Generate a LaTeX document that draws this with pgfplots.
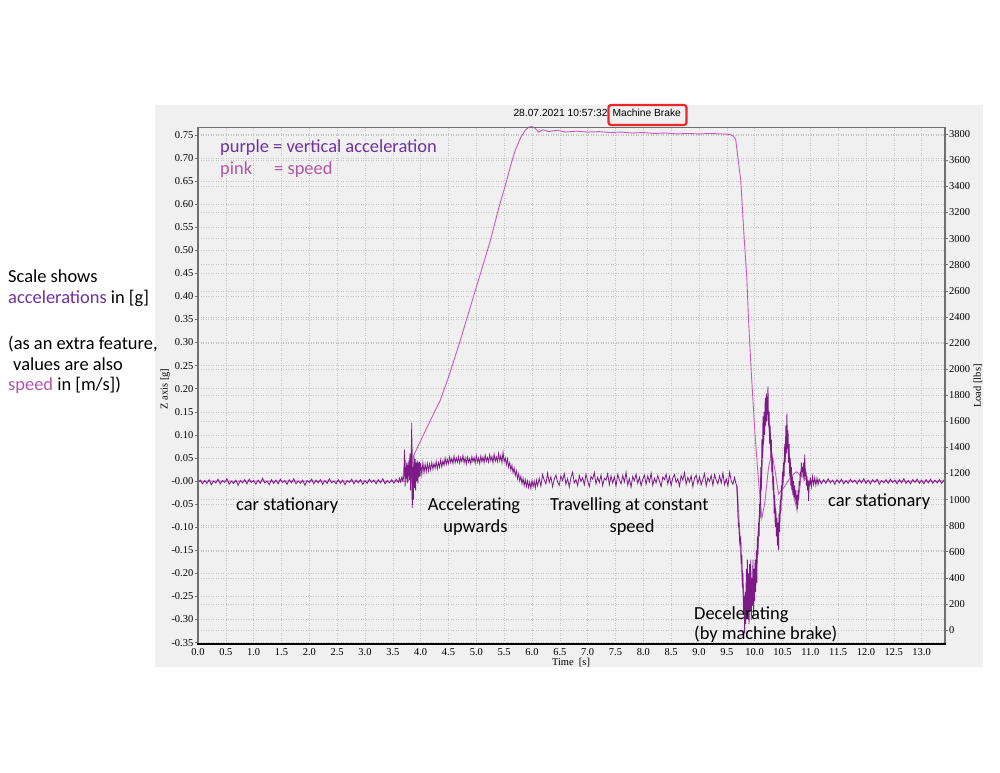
\documentclass[border=0pt]{standalone}
\usepackage{pgfplots}
\pgfplotsset{compat=1.18}
\usepackage{fontspec}
\setmainfont{Liberation Serif}
\newfontfamily\calibri{Carlito}
\newfontfamily\arial{Liberation Sans}
\definecolor{panel}{HTML}{F0F0F0}
\definecolor{gridc}{HTML}{C4C4C4}
\definecolor{accdark}{HTML}{7D1A88}
\definecolor{acclight}{HTML}{AC68AE}
\definecolor{speedc}{HTML}{C85ABC}
\definecolor{txtpurple}{HTML}{7030A0}
\definecolor{txtpink}{HTML}{B455A8}
\definecolor{boxred}{HTML}{E8282C}
\definecolor{axgray}{HTML}{707070}
\begin{document}
\begin{tikzpicture}
\fill[white] (0bp,0bp) rectangle (1000bp,773bp);
\useasboundingbox (0bp,0bp) rectangle (1000bp,773bp);
\fill[panel] (155bp,106bp) rectangle (983bp,668bp);
% ---------- right axis (Load) ----------
\begin{axis}[at={(198bp,129bp)}, anchor=south west, scale only axis,
  width=747bp, height=517bp,
  xmin=0, xmax=13.42, ymin=-107, ymax=3856,
  hide x axis, axis y line*=right,
  ytick={0,200,...,3800},
  ymajorgrids,
  grid style={gridc, line width=0.6bp, dash pattern=on 1bp off 1.5bp},
  axis line style={draw=none},
  tick style={axgray, line width=0.6bp}, major tick length=3bp, tick align=outside,
  /pgf/number format/1000 sep={}, /pgf/number format/assume math mode=true,
  yticklabel style={font=\fontsize{10.5}{12}\selectfont, inner sep=1bp}]
\addplot[draw=none] coordinates {(0,0)};
\end{axis}
% ---------- left axis (acceleration) ----------
\begin{axis}[at={(198bp,129bp)}, anchor=south west, scale only axis,
  width=747bp, height=517bp,
  xmin=0, xmax=13.42, ymin=-0.353, ymax=0.767,
  axis line style={draw=none},
  xtick={0,0.5,...,13}, xtick pos=left, ytick pos=left,
  ytick={-0.35,-0.30,-0.25,-0.20,-0.15,-0.10,-0.05,0,0.05,0.10,0.15,0.20,0.25,0.30,0.35,0.40,0.45,0.50,0.55,0.60,0.65,0.70,0.75},
  yticklabels={-0.35,-0.30,-0.25,-0.20,-0.15,-0.10,-0.05,-0.00,0.05,0.10,0.15,0.20,0.25,0.30,0.35,0.40,0.45,0.50,0.55,0.60,0.65,0.70,0.75},
  xmajorgrids, ymajorgrids,
  grid style={gridc, line width=0.6bp, dash pattern=on 1bp off 1.5bp},
  tick style={axgray, line width=0.6bp}, major tick length=3bp, tick align=outside,
  xtick style={draw=none},
  /pgf/number format/assume math mode=true,
  xticklabel style={font=\fontsize{10.5}{12}\selectfont, inner sep=1bp,
    /pgf/number format/fixed, /pgf/number format/fixed zerofill, /pgf/number format/precision=1},
  yticklabel style={font=\fontsize{10.5}{12}\selectfont, inner sep=1.5bp}]
% speed (pink)
\addplot[speedc, line width=0.9bp] coordinates {
(0,0)(3.78,0)(3.82,0.02)(3.87,0.054)(3.95,0.075)(4.05,0.10)(4.15,0.125)(4.25,0.15)(4.35,0.174)(4.5,0.225)(4.7,0.30)(4.9,0.38)(5.1,0.46)(5.25,0.52)(5.4,0.59)(5.52,0.64)(5.62,0.685)(5.7,0.717)(5.8,0.745)(5.88,0.76)(5.95,0.767)(6.0,0.768)(6.05,0.765)(6.12,0.756)(6.2,0.761)(6.3,0.757)(6.45,0.760)(6.6,0.756)(6.8,0.758)(7.0,0.756)(7.2,0.757)(7.4,0.755)(7.6,0.756)(7.8,0.754)(8.0,0.755)(8.2,0.753)(8.4,0.754)(8.6,0.752)(8.8,0.753)(9.0,0.752)(9.2,0.753)(9.4,0.752)(9.55,0.751)(9.62,0.747)(9.66,0.74)(9.70,0.70)(9.75,0.652)(9.81,0.53)(9.86,0.44)(9.89,0.35)(9.94,0.235)(10.01,0.094)(10.07,0.0)(10.13,-0.08)(10.18,-0.05)(10.25,0.03)(10.31,0.06)(10.37,0.02)(10.43,-0.028)(10.55,-0.01)(10.65,0.01)(10.75,0.02)(10.85,0.01)(10.97,0.0)(13.42,0.0)};
% light overlay of acceleration
\addplot[acclight, line width=1.6bp, opacity=0.85] coordinates {
(3.68,0.004)(3.70,0.02)(3.72,0.045)(3.74,0.01)(3.76,0.03)(3.78,0.015)(3.80,0.04)(3.82,0.02)(3.84,0.07)(3.85,-0.04)(3.86,0.01)(3.88,0.035)(3.90,0.01)(3.92,0.03)(3.95,0.02)(3.98,0.03)(4.02,0.028)};
\addplot[acclight, line width=1.6bp, opacity=0.85] coordinates {
(9.68,-0.01)(9.70,-0.05)(9.72,-0.10)(9.74,-0.13)(9.76,-0.17)(9.78,-0.21)(9.80,-0.25)(9.82,-0.28)(9.84,-0.25)(9.86,-0.27)(9.88,-0.23)(9.90,-0.28)(9.92,-0.22)(9.94,-0.27)(9.96,-0.22)(9.98,-0.25)(10.00,-0.21)(10.02,-0.20)(10.04,-0.17)(10.06,-0.13)(10.08,-0.09)(10.10,-0.05)(10.12,0.01)(10.14,0.05)(10.16,0.10)(10.18,0.12)(10.20,0.15)(10.22,0.16)(10.24,0.15)(10.26,0.12)(10.28,0.09)(10.30,0.06)(10.32,0.02)(10.34,-0.02)(10.36,-0.05)(10.38,-0.08)(10.40,-0.10)(10.42,-0.11)(10.44,-0.09)(10.46,-0.06)(10.48,-0.03)(10.50,0.00)(10.52,0.03)(10.54,0.05)(10.56,0.07)(10.58,0.09)(10.60,0.07)(10.62,0.05)(10.64,0.02)(10.66,0.00)(10.68,-0.02)(10.70,-0.03)(10.72,-0.04)(10.74,-0.05)(10.76,-0.06)(10.78,-0.04)(10.80,-0.02)(10.82,0.00)(10.84,0.02)(10.86,0.025)(10.88,0.03)(10.90,0.03)(10.92,0.015)(10.94,0.00)(10.96,-0.015)(10.98,-0.01)(11.00,0.0)(11.05,0.0)};
% vertical acceleration (dark purple)
\addplot[accdark, line width=0.8bp] coordinates {
(0.00,-0.004)(0.04,0.002)(0.08,-0.006)(0.12,0.001)(0.16,-0.005)(0.20,0.003)(0.24,-0.008)(0.28,0.000)(0.32,-0.004)(0.36,0.004)(0.40,-0.006)(0.44,0.001)(0.48,-0.003)(0.52,0.005)(0.56,-0.007)(0.60,0.000)(0.64,-0.005)(0.68,0.002)(0.72,-0.009)(0.76,0.001)(0.80,-0.004)(0.84,0.003)(0.88,-0.006)(0.92,0.004)(0.96,-0.003)(1.00,0.001)(1.04,-0.007)(1.08,0.002)(1.12,-0.005)(1.16,0.006)(1.20,-0.004)(1.24,0.000)(1.28,-0.008)(1.32,0.003)(1.36,-0.005)(1.40,0.002)(1.44,-0.006)(1.48,0.004)(1.52,-0.003)(1.56,0.001)(1.60,-0.007)(1.64,0.003)(1.68,-0.004)(1.72,0.005)(1.76,-0.006)(1.80,0.000)(1.84,-0.005)(1.88,0.002)(1.92,-0.009)(1.96,0.001)(2.00,-0.003)(2.04,0.004)(2.08,-0.006)(2.12,0.002)(2.16,-0.004)(2.20,0.003)(2.24,-0.007)(2.28,0.001)(2.32,-0.005)(2.36,0.005)(2.40,-0.004)(2.44,0.000)(2.48,-0.006)(2.52,0.003)(2.56,-0.005)(2.60,0.002)(2.64,-0.008)(2.68,0.001)(2.72,-0.003)(2.76,0.004)(2.80,-0.006)(2.84,0.002)(2.88,-0.004)(2.92,0.003)(2.96,-0.007)(3.00,0.001)(3.04,-0.005)(3.08,0.004)(3.12,-0.003)(3.16,0.002)(3.20,-0.006)(3.24,0.003)(3.28,-0.004)(3.32,0.005)(3.36,-0.006)(3.40,0.001)(3.44,-0.004)(3.48,0.003)(3.52,-0.005)(3.56,0.004)(3.60,-0.003)
(3.62,0.006)(3.64,-0.002)(3.66,0.008)(3.68,0.000)(3.70,0.012)(3.71,0.068)(3.72,-0.012)(3.73,0.030)(3.74,0.004)(3.75,0.040)(3.76,-0.005)(3.77,0.035)(3.78,0.010)(3.79,0.045)(3.80,0.002)(3.81,0.060)(3.82,-0.020)(3.83,0.050)(3.84,0.126)(3.85,-0.058)(3.86,0.030)(3.87,-0.040)(3.88,0.055)(3.89,-0.015)(3.90,0.048)(3.91,-0.020)(3.92,0.040)(3.93,0.000)(3.94,0.045)(3.95,-0.005)(3.96,0.040)(3.97,0.008)(3.98,0.042)(3.99,0.010)(4.00,0.038)(4.02,0.015)(4.04,0.040)(4.06,0.018)(4.08,0.036)(4.10,0.020)
(4.12,0.038)(4.14,0.022)(4.16,0.037)(4.18,0.024)(4.20,0.040)(4.22,0.026)(4.24,0.038)(4.26,0.028)(4.28,0.042)(4.30,0.027)(4.32,0.040)(4.34,0.030)(4.36,0.046)(4.38,0.031)(4.40,0.044)(4.42,0.034)(4.44,0.050)(4.46,0.036)(4.48,0.047)(4.50,0.038)(4.52,0.052)(4.54,0.040)(4.56,0.049)(4.58,0.038)(4.60,0.054)(4.62,0.040)(4.64,0.050)(4.66,0.041)(4.68,0.053)(4.70,0.039)(4.72,0.051)(4.74,0.042)(4.76,0.055)(4.78,0.040)(4.80,0.050)(4.82,0.037)(4.84,0.052)(4.86,0.041)(4.88,0.049)(4.90,0.038)(4.92,0.053)(4.94,0.042)(4.96,0.051)(4.98,0.039)(5.00,0.055)(5.02,0.041)(5.04,0.050)(5.06,0.038)(5.08,0.054)(5.10,0.042)(5.12,0.052)(5.14,0.040)(5.16,0.056)(5.18,0.043)(5.20,0.051)(5.22,0.041)(5.24,0.057)(5.26,0.044)(5.28,0.053)(5.30,0.040)(5.32,0.058)(5.34,0.043)(5.36,0.052)(5.38,0.042)(5.40,0.060)(5.42,0.044)(5.44,0.055)(5.46,0.040)(5.48,0.062)(5.50,0.042)(5.52,0.050)(5.54,0.035)(5.56,0.048)(5.58,0.030)
(5.60,0.040)(5.62,0.024)(5.64,0.034)(5.66,0.018)(5.68,0.028)(5.70,0.012)(5.72,0.022)(5.74,0.005)(5.76,0.016)(5.78,0.000)(5.80,0.010)(5.82,-0.006)(5.84,0.006)(5.86,-0.010)(5.88,0.003)(5.90,-0.012)(5.92,0.000)(5.94,-0.014)(5.96,-0.002)(5.98,-0.016)(6.00,0.001)(6.02,-0.012)(6.04,0.000)(6.06,-0.015)(6.08,0.002)(6.10,-0.010)
(6.13,0.006)(6.16,-0.011)(6.19,0.014)(6.22,0.002)(6.25,-0.006)(6.28,0.017)(6.31,-0.003)(6.34,0.009)(6.37,-0.012)(6.40,0.004)(6.43,0.013)(6.46,-0.002)(6.49,-0.009)(6.52,0.011)(6.55,0.001)(6.58,0.016)(6.61,-0.007)(6.64,0.005)(6.67,-0.013)(6.70,0.008)(6.73,0.019)(6.76,-0.004)(6.79,0.003)(6.82,-0.010)(6.85,0.012)(6.88,-0.001)(6.91,0.007)(6.94,-0.008)(6.97,0.015)(7.00,0.000)(7.03,-0.012)(7.06,0.010)(7.09,0.004)(7.12,0.018)(7.15,-0.006)(7.18,0.008)(7.21,-0.003)(7.24,0.013)(7.27,-0.010)(7.30,0.006)(7.33,0.002)(7.36,0.016)(7.39,-0.008)(7.42,0.011)(7.45,-0.004)(7.48,0.009)(7.51,-0.011)(7.54,0.014)(7.57,0.003)(7.60,-0.006)(7.63,0.012)(7.66,-0.002)(7.69,0.019)(7.72,-0.009)(7.75,0.005)(7.78,-0.013)(7.81,0.010)(7.84,0.001)(7.87,0.015)(7.90,-0.005)(7.93,0.008)(7.96,-0.010)(7.99,0.004)(8.02,0.013)(8.05,-0.007)(8.08,0.011)(8.11,-0.002)(8.14,0.017)(8.17,-0.009)(8.20,0.006)(8.23,-0.004)(8.26,0.012)(8.29,0.000)(8.32,-0.012)(8.35,0.009)(8.38,0.003)(8.41,0.015)(8.44,-0.006)(8.47,0.010)(8.50,-0.010)(8.53,0.007)(8.56,0.014)(8.59,-0.003)(8.62,0.005)(8.65,-0.011)(8.68,0.012)(8.71,0.002)(8.74,0.018)(8.77,-0.007)(8.80,0.008)(8.83,-0.002)(8.86,0.011)(8.89,-0.012)(8.92,0.006)(8.95,0.013)(8.98,-0.005)(9.01,0.009)(9.04,-0.008)(9.07,0.004)(9.10,0.016)(9.13,-0.010)(9.16,0.007)(9.19,-0.001)(9.22,0.012)(9.25,-0.009)(9.28,0.014)(9.31,0.002)(9.34,-0.006)(9.37,0.011)(9.40,-0.004)(9.43,0.017)(9.46,-0.008)(9.49,0.005)(9.52,-0.011)(9.55,0.019)(9.58,0.000)(9.61,-0.007)(9.64,0.008)
(9.66,-0.004)(9.68,-0.010)(9.69,-0.03)(9.70,-0.07)(9.71,-0.10)(9.72,-0.09)(9.73,-0.13)(9.74,-0.14)(9.75,-0.12)(9.76,-0.18)(9.77,-0.16)(9.78,-0.23)(9.79,-0.20)(9.80,-0.29)(9.81,-0.25)(9.82,-0.33)(9.83,-0.24)(9.84,-0.31)(9.85,-0.19)(9.86,-0.29)(9.87,-0.17)(9.88,-0.30)(9.89,-0.20)(9.90,-0.31)(9.91,-0.18)(9.92,-0.28)(9.93,-0.17)(9.94,-0.30)(9.95,-0.21)(9.96,-0.27)(9.97,-0.17)(9.98,-0.29)(9.99,-0.19)(10.00,-0.26)(10.01,-0.17)(10.02,-0.24)(10.03,-0.15)(10.04,-0.22)(10.05,-0.12)(10.06,-0.16)(10.07,-0.09)(10.08,-0.12)(10.09,-0.05)(10.10,-0.08)(10.11,0.03)(10.12,-0.02)(10.13,0.09)(10.14,0.05)(10.15,0.14)(10.16,0.08)(10.17,0.15)(10.18,0.10)(10.19,0.18)(10.20,0.12)(10.21,0.19)(10.22,0.13)(10.23,0.17)(10.24,0.205)(10.25,0.12)(10.26,0.15)(10.27,0.08)(10.28,0.12)(10.29,0.05)(10.30,0.09)(10.31,0.02)(10.32,0.05)(10.33,-0.02)(10.34,0.01)(10.35,-0.07)(10.36,-0.03)(10.37,-0.10)(10.38,-0.06)(10.39,-0.12)(10.40,-0.08)(10.41,-0.14)(10.42,-0.09)(10.43,-0.15)(10.44,-0.07)(10.45,-0.11)(10.46,-0.04)(10.47,-0.07)(10.48,-0.01)(10.49,-0.04)(10.50,0.02)(10.51,-0.01)(10.52,0.04)(10.53,0.01)(10.54,0.08)(10.55,0.04)(10.56,0.12)(10.57,0.06)(10.58,0.146)(10.59,0.07)(10.60,0.11)(10.61,0.04)(10.62,0.08)(10.63,0.01)(10.64,0.05)(10.65,-0.01)(10.66,0.03)(10.67,-0.02)(10.68,0.01)(10.69,-0.03)(10.70,0.00)(10.71,-0.035)(10.72,-0.01)(10.73,-0.04)(10.74,-0.02)(10.75,-0.05)(10.76,-0.03)(10.77,-0.06)(10.78,-0.02)(10.79,-0.04)(10.80,0.00)(10.81,-0.01)(10.82,0.02)(10.83,0.01)(10.84,0.04)(10.85,0.02)(10.86,0.03)(10.87,0.01)(10.88,0.04)(10.89,0.00)(10.90,0.058)(10.91,0.01)(10.92,0.02)(10.93,-0.01)(10.94,0.01)(10.95,-0.02)(10.96,0.00)(10.97,-0.043)(10.98,0.00)(10.99,-0.01)(11.00,0.008)(11.02,-0.012)(11.04,0.010)(11.06,-0.008)(11.08,0.007)(11.10,-0.009)(11.12,0.006)(11.14,-0.007)
(11.16,0.004)(11.20,-0.006)(11.24,0.003)(11.28,-0.005)(11.32,0.005)(11.36,-0.004)(11.40,0.002)(11.44,-0.007)(11.48,0.003)(11.52,-0.004)(11.56,0.004)(11.60,-0.006)(11.64,0.001)(11.68,-0.005)(11.72,0.004)(11.76,-0.003)(11.80,0.002)(11.84,-0.006)(11.88,0.003)(11.92,-0.004)(11.96,0.005)(12.00,-0.005)(12.04,0.002)(12.08,-0.006)(12.12,0.003)(12.16,-0.003)(12.20,0.004)(12.24,-0.007)(12.28,0.001)(12.32,-0.004)(12.36,0.003)(12.40,-0.005)(12.44,0.004)(12.48,-0.003)(12.52,0.002)(12.56,-0.006)(12.60,0.003)(12.64,-0.004)(12.68,0.005)(12.72,-0.005)(12.76,0.001)(12.80,-0.006)(12.84,0.003)(12.88,-0.003)(12.92,0.004)(12.96,-0.005)(13.00,0.002)(13.04,-0.006)(13.08,0.003)(13.12,-0.004)(13.16,0.004)(13.20,-0.005)(13.24,0.002)(13.28,-0.004)(13.32,0.003)(13.36,-0.005)(13.40,0.002)(13.42,-0.002)};
\end{axis}
% ---------- frame ----------
\draw[axgray, line width=0.8bp] (198bp,646bp) -- (945bp,646bp);
\draw[axgray, line width=2bp] (198bp,129bp) -- (198bp,646bp);
\draw[axgray, line width=2bp] (945bp,129bp) -- (945bp,646bp);
\draw[black, line width=1.6bp] (197bp,129bp) -- (946bp,129bp);
% ---------- title ----------
\node[font=\arial\fontsize{10.3}{12}\selectfont, anchor=base west, inner sep=0pt] at (513.3bp,656.3bp) {28.07.2021 10:57:32};
\node[font=\arial\fontsize{10.3}{12}\selectfont, anchor=base west, inner sep=0pt] at (612.3bp,656.3bp) {Machine Brake};
\draw[boxred, line width=2.2bp, rounded corners=2.5bp] (608.5bp,648bp) rectangle (686.5bp,668bp);
% ---------- axis titles ----------
\node[font=\fontsize{10.5}{12}\selectfont, rotate=90, inner sep=0pt] at (165bp,384bp) {Z axis [g]};
\node[font=\fontsize{10.5}{12}\selectfont, rotate=90, inner sep=0pt] at (978bp,387bp) {Load [lbs]};
\node[font=\fontsize{10.5}{12}\selectfont, anchor=base, inner sep=0pt] at (571bp,107bp) {Time\ \ [s]};
% ---------- annotations ----------
\begin{scope}[every node/.style={font=\calibri\fontsize{18.5}{22}\selectfont, inner sep=0pt}]
\node[anchor=base west] at (8bp,490bp) {Scale shows};
\node[anchor=base west] at (8bp,469bp) {\textcolor{txtpurple}{accelerations} in [g]};
\node[anchor=base west] at (8bp,423bp) {(as an extra feature,};
\node[anchor=base west] at (13bp,402bp) {values are also};
\node[anchor=base west] at (8bp,382bp) {\textcolor{txtpink}{speed} in [m/s])};
\node[anchor=base west, text=txtpurple] at (220bp,620.3bp) {purple = vertical acceleration};
\node[anchor=base west, text=txtpink] at (220bp,598bp) {pink};
\node[anchor=base west, text=txtpink] at (274bp,598bp) {= speed};
\node[anchor=base west] at (236bp,262bp) {car stationary};
\node[anchor=base] at (474bp,262bp) {Accelerating};
\node[anchor=base] at (475.5bp,240bp) {upwards};
\node[anchor=base west] at (550bp,262bp) {Travelling at constant};
\node[anchor=base] at (632bp,240bp) {speed};
\node[anchor=base west] at (828bp,266bp) {car stationary};
\node[anchor=base west] at (694bp,153bp) {Decelerating};
\node[anchor=base west] at (694bp,133bp) {(by machine brake)};
\end{scope}
\end{tikzpicture}
\end{document}
